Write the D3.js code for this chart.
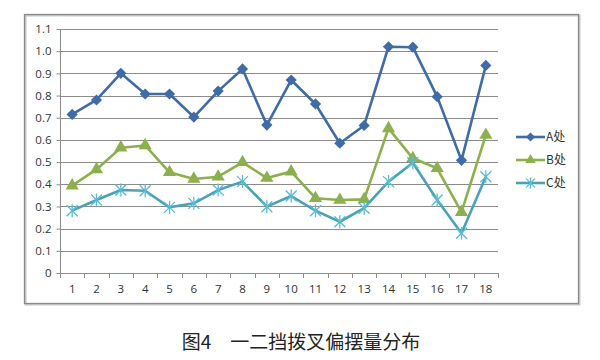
<!DOCTYPE html>
<html><head><meta charset="utf-8">
<script src="https://cdn.jsdelivr.net/npm/d3@7"></script>
<style>body{margin:0;background:#fff}svg{display:block}</style>
</head><body>
<svg id="c" width="600" height="360"></svg>
<script>
const categories = ["1","2","3","4","5","6","7","8","9","10","11","12","13","14","15","16","17","18"];
const seriesA = [0.715,0.78,0.90,0.807,0.807,0.703,0.82,0.92,0.667,0.87,0.762,0.585,0.665,1.02,1.018,0.795,0.508,0.936];
const seriesB = [0.394,0.467,0.565,0.575,0.454,0.424,0.434,0.499,0.428,0.457,0.337,0.329,0.332,0.652,0.517,0.472,0.274,0.622];
const seriesC = [0.281,0.329,0.374,0.371,0.296,0.314,0.374,0.412,0.299,0.347,0.281,0.231,0.292,0.412,0.497,0.329,0.179,0.434];
const seriesNames = ["A处","B处","C处"];
const yTicks = [0,0.1,0.2,0.3,0.4,0.5,0.6,0.7,0.8,0.9,1.0,1.1];
const titleText = "图4　一二挡拨叉偏摆量分布";

const svg = d3.select("#c");
const colors = ["#3F6BA6","#8DB04E","#48A3B8"];
const L=60,R=498,T=29,B=273;
const x = d3.scaleBand().domain(categories).range([L,R]);
const y = d3.scaleLinear().domain([0,1.1]).range([B,T]);

// frame
svg.append("rect").attr("x",25.5).attr("y",15.5).attr("width",554).attr("height",289)
  .attr("fill","none").attr("stroke","#c8c8c8").attr("stroke-width",2);
svg.append("rect").attr("x",24.5).attr("y",14.5).attr("width",554).attr("height",289)
  .attr("fill","none").attr("stroke","#8a8a8a").attr("stroke-width",1.3);

// gridlines
svg.append("g").selectAll("line").data(yTicks.filter(d=>d>0)).join("line")
  .attr("x1",L).attr("x2",R).attr("y1",d=>Math.round(y(d))+0.5).attr("y2",d=>Math.round(y(d))+0.5)
  .attr("stroke","#8c8c8c").attr("stroke-width",1);

// y axis
const ya = svg.append("g").attr("transform",`translate(${L+0.5},0)`)
  .call(d3.axisLeft(y).tickValues(yTicks).tickSize(4).tickPadding(5)
    .tickFormat(d=> d===0 ? "0" : d3.format(".1f")(d)));
// x axis
const xa = svg.append("g").attr("transform",`translate(0,${B+0.5})`)
  .call(d3.axisBottom(x).tickSize(0).tickPadding(11));
// x tick marks at band boundaries
const bounds = categories.map(c=>x(c)).concat([R]);
svg.append("g").selectAll("line").data(bounds).join("line")
  .attr("x1",d=>Math.round(d)+0.5).attr("x2",d=>Math.round(d)+0.5)
  .attr("y1",B).attr("y2",B+5).attr("stroke","#8c8c8c");
[ya,xa].forEach(g=>{
  g.selectAll(".domain").attr("stroke","#8c8c8c");
  g.selectAll(".tick line").attr("stroke","#8c8c8c");
  g.selectAll("text").attr("fill","#333").style("font-family","'Open Sans','DejaVu Sans',sans-serif").style("font-size","11.5px");
});
ya.select(".domain").attr("d",`M0,${T}V${B}`);
xa.select(".domain").attr("d",`M${L},0H${R}`);

const cx = c=>x(c)+x.bandwidth()/2;
const line = d3.line().x((d,i)=>cx(categories[i])).y(d=>y(d));
const data = [seriesA,seriesB,seriesC];

function marker(g,type,color,sc){
  sc = sc||1;
  if(type===0){
    const a=5.6*sc;
    g.append("path").attr("d",`M0,${-a}L${a},0L0,${a}L${-a},0Z`).attr("fill",color);
  } else if(type===1){
    g.append("path").attr("d",d3.symbol(d3.symbolTriangle,75*sc*sc)()).attr("fill",color);
  } else {
    const s=5.5*sc;
    g.append("path").attr("d",`M${-s},${-s}L${s},${s}M${-s},${s}L${s},${-s}M0,${-s-1}L0,${s+1}`)
      .attr("stroke","#5bbcd6").attr("stroke-width",1.3).attr("fill","none");
  }
}

data.forEach((arr,k)=>{
  svg.append("path").datum(arr).attr("d",line).attr("fill","none")
    .attr("stroke",colors[k]).attr("stroke-width",2.6).attr("stroke-linejoin","round");
  svg.append("g").selectAll("g").data(arr).join("g")
    .attr("transform",(d,i)=>`translate(${cx(categories[i])},${y(d)})`)
    .each(function(){ marker(d3.select(this),k,colors[k]); });
});

// legend
const legY=[137,160,183];
seriesNames.forEach((n,k)=>{
  svg.append("line").attr("x1",516).attr("x2",545).attr("y1",legY[k]).attr("y2",legY[k])
    .attr("stroke",colors[k]).attr("stroke-width",2.6);
  const g=svg.append("g").attr("transform",`translate(530.5,${legY[k]})`);
  marker(g,k,colors[k],0.8);
  svg.append("text").attr("x",546).attr("y",legY[k]).attr("dy","0.36em")
    .attr("fill","#333").style("font-family","'Noto Sans CJK SC',sans-serif").style("font-size","12px").text(n);
});

// title
svg.append("text").attr("x",301).attr("y",349).attr("text-anchor","middle")
  .attr("fill","#222").style("font-family","'Noto Sans CJK SC',sans-serif").style("font-size","19px").text(titleText);
</script>
</body></html>
